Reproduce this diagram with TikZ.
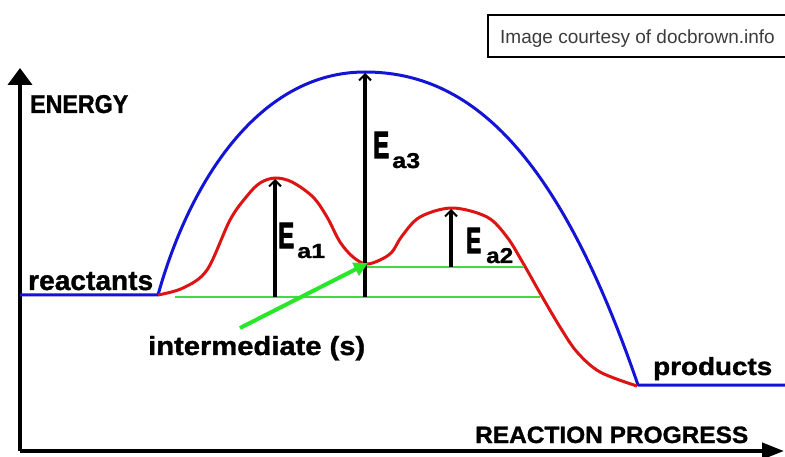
\documentclass[tikz,border=0pt]{standalone}
\usepackage{fontspec}
\setmainfont{Liberation Sans}
\newfontfamily\heavyfont[FakeBold=1.2]{Liberation Sans Bold}
\newfontfamily\heavierfont[FakeBold=3]{Liberation Sans Bold}
\usetikzlibrary{arrows.meta}
\definecolor{cblue}{RGB}{20,20,215}
\definecolor{cred}{RGB}{220,20,20}
\definecolor{cgreen}{RGB}{70,215,70}
\definecolor{cgreenA}{RGB}{40,230,40}
\definecolor{ctext}{RGB}{60,60,60}
\newcommand{\fitbox}[3]{\resizebox{#1pt}{#2pt}{\heavyfont #3}}
\newcommand{\fitE}[3]{\resizebox{#1pt}{#2pt}{\heavierfont #3}}
\begin{document}
\begin{tikzpicture}[x=1pt,y=-1pt,
  lbl/.style={inner sep=0pt, anchor=base west},
  axisline/.style={line width=4pt, line cap=butt},
  bluecurve/.style={cblue, line width=3pt, line join=round},
  redcurve/.style={cred, line width=3pt, line join=round},
  levelline/.style={cgreen, line width=2.2pt},
  eaarrow/.style={line width=3.2pt, -{Straight Barb[length=6pt,width=12pt,line width=2pt]}},
  pointer/.style={cgreenA, line width=4pt, -{Triangle[length=14pt,width=14pt]}}]
\useasboundingbox (0,0) rectangle (785,457);
\fill[white] (0,0) rectangle (785,457);
\begin{scope}
\clip (0,0) rectangle (785,457);
% credit box
\draw[line width=2.5pt] (488,15) rectangle (800,57);
\node[anchor=base west, inner sep=0pt, text=ctext, font=\fontsize{19}{19}\selectfont] (credit) at (500,44) {Image courtesy of docbrown.info};

% coordinates
\coordinate (O) at (20,451);
\coordinate (ytip) at (20,68);
\coordinate (xtip) at (784,451);
\coordinate (R) at (158,295);
\coordinate (P) at (638,385);
\coordinate (Rend) at (20,295);
\coordinate (Pend) at (790,385);
\coordinate (top3) at (365,72);

% axes
\draw[axisline, -{Triangle[length=17pt,width=24pt]}] (O) -- (ytip);
\draw[axisline, -{Triangle[length=22pt,width=16pt]}] (20,451) -- (xtip);

% blue
\draw[bluecurve] (Rend) -- (R) .. controls (190,180) and (260,72) .. (top3)
   .. controls (470,72) and (558,152) .. (P) -- (Pend);

% red
\draw[redcurve] plot[smooth, tension=0.55] coordinates {
 (158,295) (183,288) (207,270) (230,220) (247,196) (260,183) (275,178)
 (292,182) (313,197) (327,217) (340,242) (353,257) (366,264) (380,260) (392,252)
 (402,236) (420,217) (452,208) (487,217) (507,237) (523,263) (540,293)
 (560,327) (577,352) (600,372) (637,386)};

% green levels
\coordinate (g1a) at (175,297);
\coordinate (g1b) at (540,297);
\coordinate (g2a) at (366,267);
\coordinate (g2b) at (524,267);
\draw[levelline] (g1a) -- (g1b);
\draw[levelline] (g2a) -- (g2b);

% Ea arrows
\coordinate (e1b) at (275,297);
\coordinate (e1t) at (275,179);
\coordinate (e2b) at (451,267);
\coordinate (e2t) at (451,209);
\coordinate (e3b) at (365,297);
\coordinate (e3t) at (365,73);
\draw[eaarrow] (e1b) -- (e1t);
\draw[eaarrow] (e2b) -- (e2t);
\draw[eaarrow] (e3b) -- (e3t);

% pointer to intermediate
\coordinate (ptail) at (240,328);
\coordinate (ptip) at (368,263);
\draw[pointer] (ptail) -- (ptip);

% labels
\node[lbl] (energy) at (30,113) {\fitbox{98}{18}{ENERGY}};
\node[lbl] (reactants) at (28,290) {\fitbox{125}{18}{reactants}};
\node[lbl] (products) at (653,375) {\fitbox{119}{18}{products}};
\node[lbl] (inter) at (148,355) {\fitbox{217}{19}{intermediate (s)}};
\node[lbl] (progress) at (475,443) {\fitbox{273}{16.5}{REACTION PROGRESS}};

\node[lbl] (E1) at (278,248) {\fitE{16}{25}{E}};
\node[lbl] (s1) at (297,258) {\fitbox{28}{14}{a1}};
\node[lbl] (E2) at (466,253) {\fitE{15}{25}{E}};
\node[lbl] (s2) at (486,263) {\fitbox{27}{15}{a2}};
\node[lbl] (E3) at (373,158) {\fitE{16}{26}{E}};
\node[lbl] (s3) at (392,168) {\fitbox{28}{15}{a3}};
\end{scope}
\end{tikzpicture}
\end{document}
